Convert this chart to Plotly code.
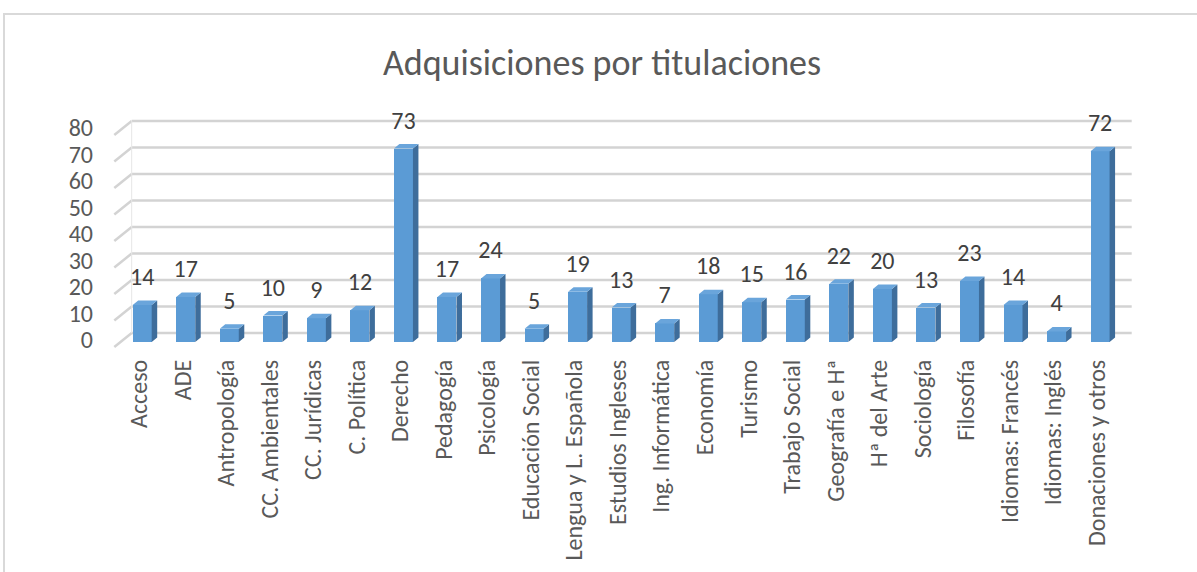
import plotly.graph_objects as go

# ---------------- data ----------------
categories = ["Acceso", "ADE", "Antropología", "CC. Ambientales", "CC. Jurídicas",
              "C. Política", "Derecho", "Pedagogía", "Psicología", "Educación Social",
              "Lengua y L. Española", "Estudios Ingleses", "Ing. Informática", "Economía",
              "Turismo", "Trabajo Social", "Geografía e Hª", "Hª del Arte", "Sociología",
              "Filosofía", "Idiomas: Francés", "Idiomas: Inglés", "Donaciones y otros"]
values = [14, 17, 5, 10, 9, 12, 73, 17, 24, 5, 19, 13, 7, 18, 15, 16, 22, 20, 13, 23, 14, 4, 72]
y_ticks = [0, 10, 20, 30, 40, 50, 60, 70, 80]
title_text = "Adquisiciones por titulaciones"

# ---------------- styling / geometry ----------------
W, H = 1197, 572
ML, MR, MT, MB = 110, 57, 95, 220
PX_PER_CAT = 43.54
PX_PER_VAL = 2.65
FRONT_X0 = 142.2      # pixel of first category centre
FRONT_Y0 = 342.0      # pixel of value 0 (bar front)

FONT = "Carlito, Calibri, Lato, sans-serif"
C_FRONT = "#5B9BD5"
C_SIDE = "#3E6D9B"
C_TOP = "#6AA5DB"
C_GRID = "#D3D3D3"

bar_half = 9.5 / PX_PER_CAT
bar_dx = 5.5 / PX_PER_CAT
bar_dy = 4.5 / PX_PER_VAL
back_dy = 9.0 / PX_PER_VAL
floor_dx = 17.4 / PX_PER_CAT
floor_dy = 14.0 / PX_PER_VAL
wall_x0 = (131.7 - FRONT_X0) / PX_PER_CAT
wall_x1 = (1131.7 - FRONT_X0) / PX_PER_CAT
label_dy = 26.0 / PX_PER_VAL

plot_w = W - ML - MR
plot_h = H - MT - MB
x_range = [(ML - FRONT_X0) / PX_PER_CAT, (W - MR - FRONT_X0) / PX_PER_CAT]
y_range = [(FRONT_Y0 - (H - MB)) / PX_PER_VAL, (FRONT_Y0 - MT) / PX_PER_VAL]

xs = list(range(len(categories)))

fig = go.Figure()

# front faces
fig.add_trace(go.Bar(x=xs, y=values, width=2 * bar_half, marker=dict(color=C_FRONT, line=dict(width=0)),
                     hoverinfo="skip", showlegend=False))

# side faces
sx, sy = [], []
for x, v in zip(xs, values):
    x1 = x + bar_half
    sx += [x1, x1, x1 + bar_dx, x1 + bar_dx, x1, None]
    sy += [0, v, v + bar_dy, bar_dy, 0, None]
fig.add_trace(go.Scatter(x=sx, y=sy, mode="lines", fill="toself", fillcolor=C_SIDE,
                         line=dict(width=0, color=C_SIDE), hoverinfo="skip", showlegend=False))

# top faces
tx, ty = [], []
for x, v in zip(xs, values):
    tx += [x - bar_half, x + bar_half, x + bar_half + bar_dx, x - bar_half + bar_dx, x - bar_half, None]
    ty += [v, v, v + bar_dy, v + bar_dy, v, None]
fig.add_trace(go.Scatter(x=tx, y=ty, mode="lines", fill="toself", fillcolor=C_TOP,
                         line=dict(width=0, color=C_TOP), hoverinfo="skip", showlegend=False))

# data labels
fig.add_trace(go.Scatter(x=xs, y=[v + label_dy for v in values], mode="text",
                         text=[str(v) for v in values], textposition="middle center",
                         textfont=dict(family=FONT, size=24, color="#404040"),
                         cliponaxis=False, hoverinfo="skip", showlegend=False))

# gridlines on back wall and side wall (3D look)
shapes = []
for t in y_ticks:
    yb = t + back_dy
    shapes.append(dict(type="line", xref="x", yref="y", x0=wall_x0, x1=wall_x1, y0=yb, y1=yb,
                       line=dict(color=C_GRID, width=2.5), layer="below"))
    shapes.append(dict(type="line", xref="x", yref="y", x0=wall_x0 - floor_dx, x1=wall_x0,
                       y0=yb - floor_dy, y1=yb, line=dict(color=C_GRID, width=2.5), layer="below"))
shapes.append(dict(type="line", xref="x", yref="y", x0=wall_x0, x1=wall_x0,
                   y0=y_ticks[0] + back_dy, y1=y_ticks[-1] + back_dy,
                   line=dict(color="#E6E6E6", width=1), layer="below"))
# outer chart border
shapes.append(dict(type="rect", xref="paper", yref="paper",
                   x0=(4 - ML) / plot_w, x1=(W + 20 - ML) / plot_w,
                   y0=((H - MB) - (H + 20)) / plot_h, y1=((H - MB) - 14) / plot_h,
                   line=dict(color="#D9D9D9", width=2), fillcolor="rgba(0,0,0,0)", layer="below"))

fig.update_layout(
    width=W, height=H,
    margin=dict(l=ML, r=MR, t=MT, b=MB, autoexpand=False),
    paper_bgcolor="white", plot_bgcolor="white",
    shapes=shapes,
    title=dict(text=title_text, x=602 / W, xanchor="center", y=1 - 62 / H, yanchor="middle",
               yref="container", xref="container",
               font=dict(family=FONT, size=36, color="#595959")),
    xaxis=dict(range=x_range, tickmode="array", tickvals=xs, ticktext=categories,
               tickangle=-90, showgrid=False, zeroline=False, showline=False, ticks="",
               tickfont=dict(family=FONT, size=24, color="#595959"),
               ticklabelshift=-3, ticklabelstandoff=2, fixedrange=True),
    yaxis=dict(range=y_range, tickmode="array", tickvals=y_ticks, ticktext=[str(t) for t in y_ticks],
               showgrid=False, zeroline=False, showline=False, ticks="",
               tickfont=dict(family=FONT, size=24, color="#595959"),
               ticklabelshift=-2, ticklabelstandoff=16, fixedrange=True),
    bargap=0,
)

fig.write_html("out.html", config={"displayModeBar": False},
               post_script="document.body.style.margin='0';document.body.style.overflow='hidden';")
